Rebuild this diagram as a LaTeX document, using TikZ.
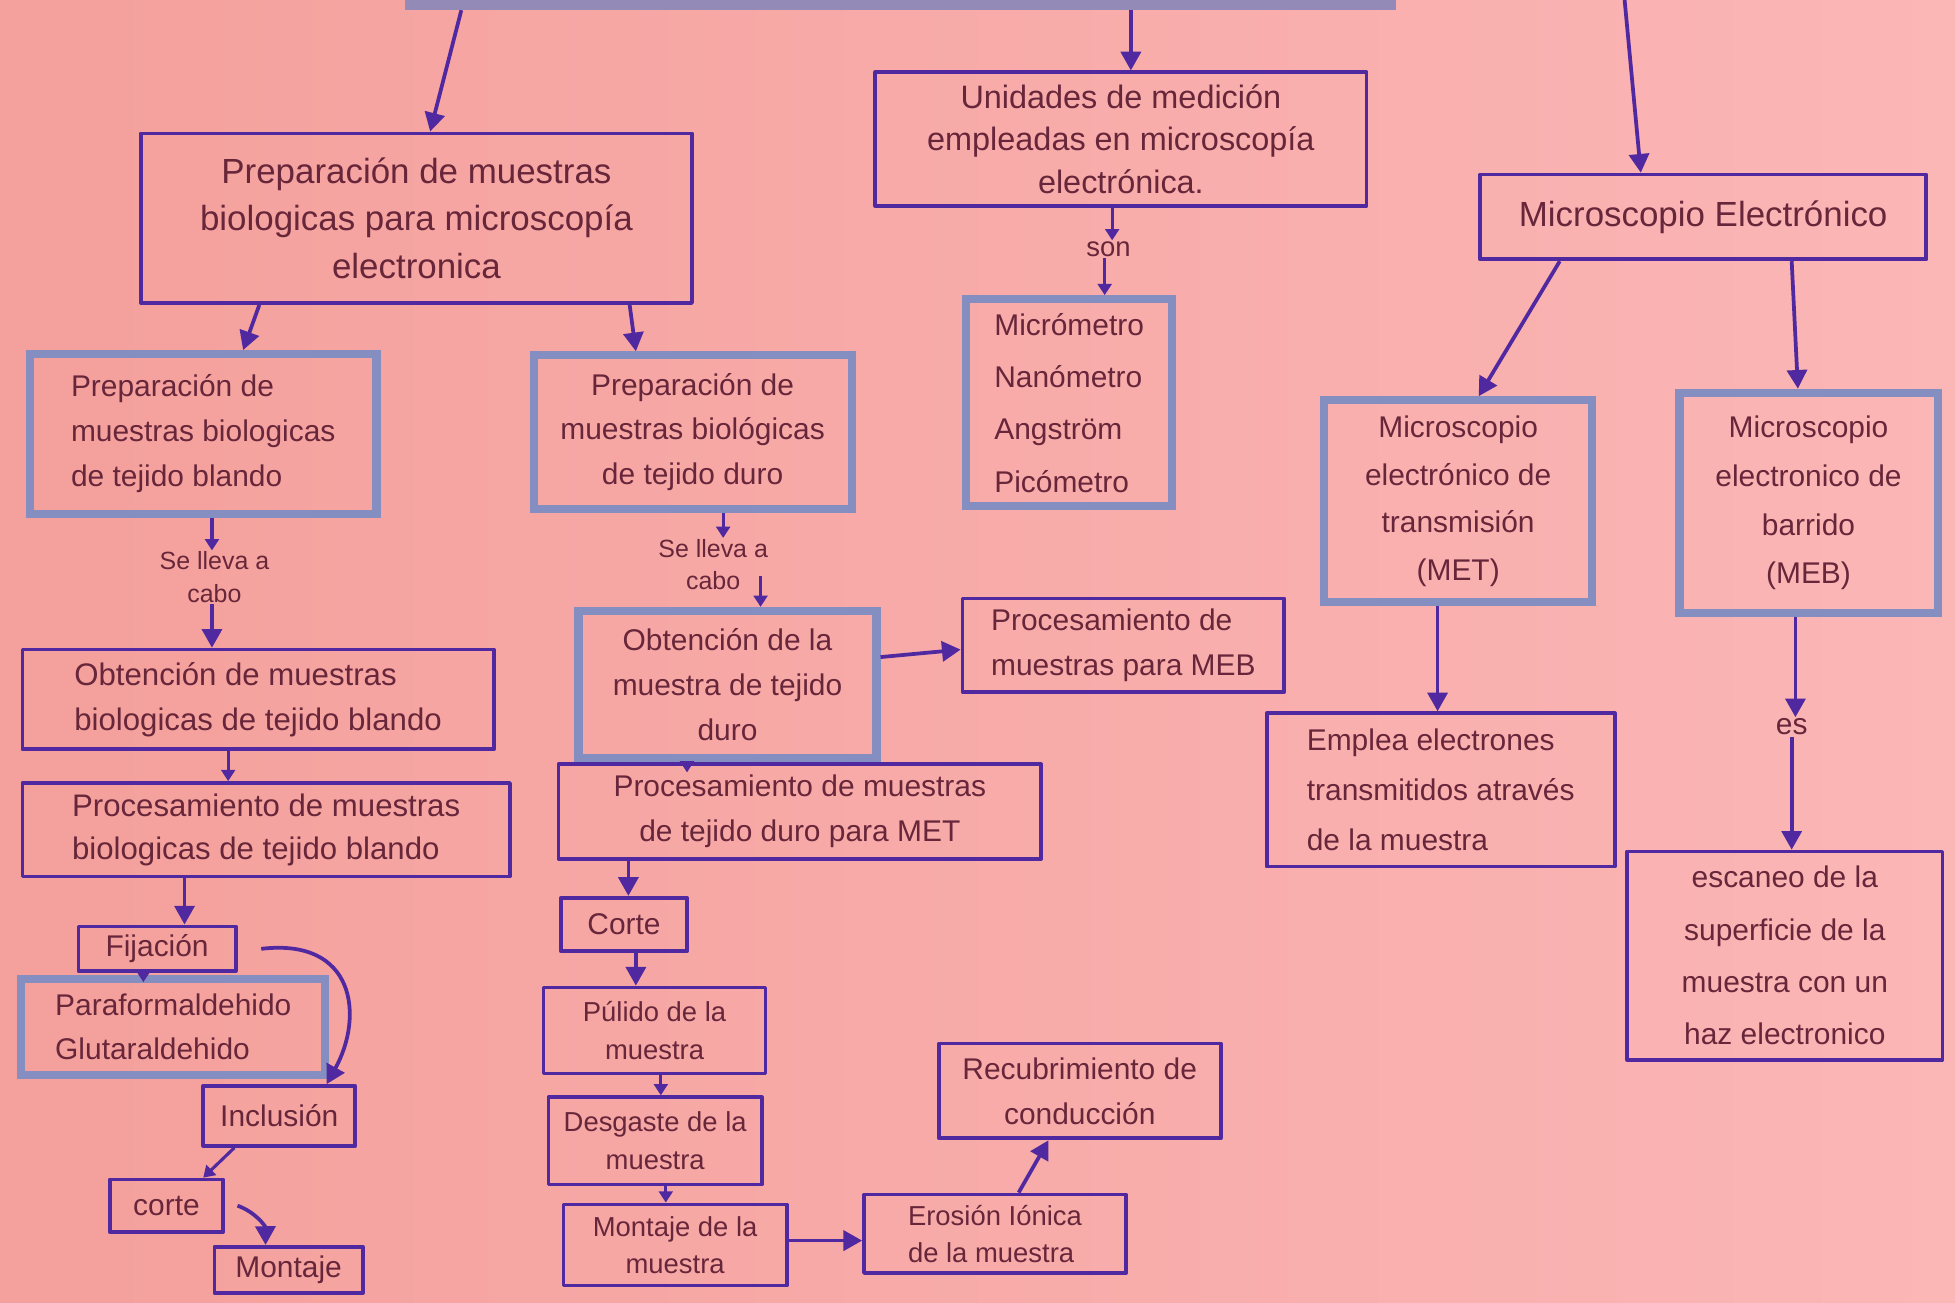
\documentclass[tikz,border=0pt]{standalone}
\usepackage{fontspec}
\setmainfont{Liberation Sans}
\usetikzlibrary{arrows.meta}
\definecolor{papel}{RGB}{244,160,156}
\definecolor{papelclaro}{RGB}{251,182,182}
\definecolor{tinta}{RGB}{80,40,160}
\definecolor{letra}{RGB}{104,38,58}
\definecolor{marcador}{RGB}{132,142,192}
\definecolor{barra}{RGB}{148,138,184}
\tikzset{
  caja/.style={draw=tinta, line width=3pt, line join=round, inner sep=2pt, text=letra, font=\fontsize{24}{36}\selectfont},
  cajaazul/.style={draw=marcador, line width=6.5pt, inner sep=2pt, text=letra, font=\fontsize{24}{36}\selectfont},
  etiqueta/.style={inner sep=1pt, text=letra, font=\fontsize{20}{26}\selectfont},
  flecha/.style={draw=tinta, line width=3pt, -{Triangle[length=15pt,width=16pt]}},
  flechita/.style={draw=tinta, line width=2.5pt, -{Triangle[length=9pt,width=11pt]}}
}

\begin{document}
\begin{tikzpicture}[x=1pt, y=-1pt]
	%%%%% START %%%%%
	\useasboundingbox (0,0) rectangle (1568,1045);
	\shade[left color=papel, right color=papelclaro] (0,0) rectangle (1568,1045);
	
	\node[fill=barra, minimum width=795pt, minimum height=18pt, inner sep=0pt] (tema) at (722.5,-1) {};
	\coordinate (arriba) at (1303,0);
	
	\node[caja, font=\fontsize{28}{38}\selectfont, align=center, minimum width=442pt, minimum height=136pt] (prepbio) at (334,175) {Preparación de muestras\\biologicas para microscopía\\electronica};
	\node[caja, font=\fontsize{26}{34}\selectfont, align=center, minimum width=394pt, minimum height=107pt] (unidades) at (899,111.5) {Unidades de medición\\empleadas en microscopía\\electrónica.};
	\node[caja, font=\fontsize{28}{34}\selectfont, minimum width=358pt, minimum height=68pt] (microel) at (1366,174) {Microscopio Electrónico};
	
	\node[cajaazul, align=left, minimum width=278pt, minimum height=128pt] (blando) at (163,348) {Preparación de\\muestras biologicas\\de tejido blando};
	\node[cajaazul, align=center, minimum width=255pt, minimum height=123pt] (duro) at (555.5,346.5) {Preparación de\\muestras biológicas\\de tejido duro};
	\node[cajaazul, align=left, font=\fontsize{24}{42}\selectfont, minimum width=165pt, minimum height=166pt] (medidas) at (857.5,323) {Micrómetro\\Nanómetro\\Angström\\Picómetro};
	\node[cajaazul, align=center, font=\fontsize{24}{38}\selectfont, minimum width=215pt, minimum height=162pt] (met) at (1169.5,402) {Microscopio\\electrónico de\\transmisión\\(MET)};
	\node[cajaazul, align=center, font=\fontsize{24}{39}\selectfont, minimum width=207pt, minimum height=177pt] (meb) at (1450.5,403.5) {Microscopio\\electronico de\\barrido\\(MEB)};
	
	\node[etiqueta, align=center] (llevablando) at (172,463) {Se lleva a\\cabo};
	\node[etiqueta, align=center] (llevaduro) at (572,453) {Se lleva a\\cabo};
	\node[etiqueta, font=\fontsize{22}{26}\selectfont] (son) at (889,200) {son};
	\node[etiqueta, font=\fontsize{24}{28}\selectfont] (es) at (1437,583) {es};
	\coordinate (cabo) at (610,462);
	
	% tejido blando
	\node[caja, align=left, font=\fontsize{25}{36}\selectfont, minimum width=378pt, minimum height=80pt] (obtblando) at (207,561) {Obtención de muestras\\biologicas de tejido blando};
	\node[caja, align=left, font=\fontsize{25}{34}\selectfont, minimum width=391pt, minimum height=75pt] (procblando) at (213.5,665.5) {Procesamiento de muestras\\biologicas de tejido blando};
	\node[caja, minimum width=126pt, minimum height=36pt] (fijacion) at (126,761) {Fijación};
	\node[cajaazul, align=left, minimum width=244pt, minimum height=77pt] (fijadores) at (139,823.5) {Paraformaldehido\\Glutaraldehido};
	\node[caja, minimum width=122pt, minimum height=48pt] (inclusion) at (224,895) {Inclusión};
	\node[caja, minimum width=91pt, minimum height=42pt] (corteblando) at (133.5,967) {corte};
	\node[caja, minimum width=119pt, minimum height=37pt] (montblando) at (231.5,1018.5) {Montaje};
	
	% tejido duro
	\node[cajaazul, align=center, minimum width=239pt, minimum height=118pt] (obtduro) at (583.5,549) {Obtención de la\\muestra de tejido\\duro};
	\node[caja, align=left, minimum width=258pt, minimum height=75pt] (procmeb) at (901,517.5) {Procesamiento de\\muestras para MEB};
	\node[caja, align=center, minimum width=387pt, minimum height=76pt] (procmet) at (641.5,651) {Procesamiento de muestras\\de tejido duro para MET};
	\node[caja, minimum width=101pt, minimum height=43pt] (corteduro) at (500.5,741.5) {Corte};
	\node[caja, align=center, font=\fontsize{22}{30}\selectfont, minimum width=178pt, minimum height=69pt] (pulido) at (525,826.5) {Púlido de la\\muestra};
	\node[caja, align=center, font=\fontsize{22}{30}\selectfont, minimum width=171pt, minimum height=70pt] (desgaste) at (525.5,915) {Desgaste de la\\muestra};
	\node[caja, align=center, font=\fontsize{22}{30}\selectfont, minimum width=179pt, minimum height=65pt] (montduro) at (541.5,998.5) {Montaje de la\\muestra};
	\node[caja, align=left, font=\fontsize{22}{30}\selectfont, minimum width=210pt, minimum height=63pt] (erosion) at (798,989.5) {Erosión Iónica\\de la muestra};
	\node[caja, align=center, minimum width=226pt, minimum height=76pt] (recubr) at (866,875) {Recubrimiento de\\conducción};
	
	% microscopios
	\node[caja, align=left, font=\fontsize{24}{40}\selectfont, minimum width=279pt, minimum height=123pt] (emplea) at (1155.5,633.5) {Emplea electrones\\transmitidos através\\de la muestra};
	\node[caja, align=center, font=\fontsize{24}{42}\selectfont, minimum width=253pt, minimum height=167pt] (escaneo) at (1431.5,766.5) {escaneo de la\\superficie de la\\muestra con un\\haz electronico};
	
	\draw[flecha] (tema.south -| 370,0) -- (prepbio.north -| 345,0);
	\draw[flecha] (tema.south -| 907,0) -- (unidades.north -| 907,0);
	\draw[flecha] (arriba) -- (microel.north -| 1316,0);
	\draw[flecha] (prepbio.south -| 208,0) -- (blando.north -| 195,0);
	\draw[flecha] (prepbio.south -| 505,0) -- (duro.north -| 510,0);
	\draw[flechita] (unidades.south -| 892,0) -- (son.north -| 892,0);
	\draw[flechita] (son.south -| 886,0) -- (medidas.north -| 886,0);
	\draw[flecha] (microel.south -| 1251,0) -- (met.north -| 1186,0);
	\draw[flecha] (microel.south -| 1437,0) -- (meb.north -| 1442,0);
	
	\draw[flechita] (blando.south -| 170,0) -- (llevablando.north -| 170,0);
	\draw[flecha] (llevablando.south -| 170,0) -- (obtblando.north -| 170,0);
	\draw[flechita] (obtblando.south -| 183,0) -- (procblando.north -| 183,0);
	\draw[flecha] (procblando.south -| 148,0) -- (fijacion.north -| 148,0);
	\draw[flechita] (fijacion.south -| 115,0) -- ([yshift=-6pt]fijadores.north -| 115,0);
	\draw[flecha] ([xshift=19pt]fijacion.east) .. controls (285,752) and (292,815) .. (inclusion.north -| 262,0);
	\draw[flechita] (inclusion.south -| 188,0) -- (corteblando.north -| 163,0);
	\draw[flecha] ([xshift=10pt]corteblando.east) to[bend left=35] (montblando.north -| 213,0);
	
	\draw[flechita] (duro.south -| 580,0) -- (llevaduro.north -| 580,0);
	\draw[flechita] (cabo) -- (obtduro.north -| 610,0);
	\draw[flecha] (obtduro.east |- 0,527) -- (procmeb.west |- 0,521);
	\draw[flechita] (obtduro.south -| 551,0) -- ([yshift=-8pt]procmet.north -| 551,0);
	\draw[flecha] (procmet.south -| 504,0) -- (corteduro.north -| 504,0);
	\draw[flecha] (corteduro.south -| 510,0) -- (pulido.north -| 510,0);
	\draw[flechita] (pulido.south -| 530,0) -- (desgaste.north -| 530,0);
	\draw[flechita] (desgaste.south -| 534,0) -- (montduro.north -| 534,0);
	\draw[flecha] (montduro.east |- 0,995) -- (erosion.west |- 0,995);
	\draw[flecha] (erosion.north -| 817,0) -- (recubr.south -| 841,0);
	
	\draw[flecha] (met.south -| 1153,0) -- (emplea.north -| 1153,0);
	\draw[flecha] (meb.south -| 1440,0) -- (es.north -| 1440,0);
	\draw[flecha] (es.south -| 1437,0) -- (escaneo.north -| 1437,0);
	
	%%%%% END %%%%%
\end{tikzpicture}
\end{document}
